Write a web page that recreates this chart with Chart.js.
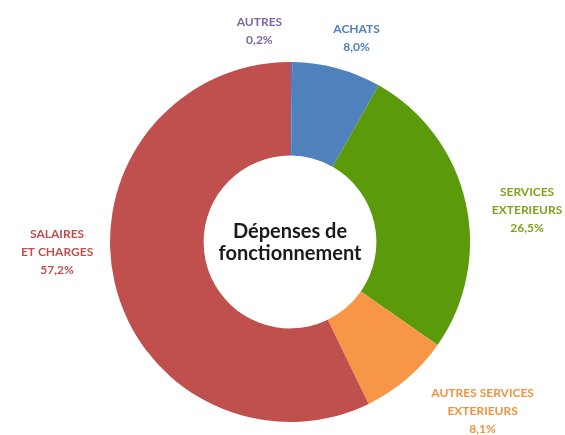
<!DOCTYPE html>
<html>
<head>
<meta charset="utf-8">
<script src="https://cdn.jsdelivr.net/npm/chart.js@4.4.0/dist/chart.umd.min.js"></script>
<style>
  html, body { margin: 0; padding: 0; background: #fff; }
  #wrap { width: 565px; height: 435px; }
</style>
</head>
<body>
<div id="wrap"><canvas id="myChart"></canvas></div>
<script>
// données
const categories = ['AUTRES', 'ACHATS', 'SERVICES EXTERIEURS', 'AUTRES SERVICES EXTERIEURS', 'SALAIRES ET CHARGES'];
const values = [0.2, 8.0, 26.5, 8.1, 57.2];
const labelLines = [
    ['AUTRES'],
    ['ACHATS'],
    ['SERVICES', 'EXTERIEURS'],
    ['AUTRES SERVICES', 'EXTERIEURS'],
    ['SALAIRES', 'ET CHARGES']
];
const centerTitle = ['Dépenses de', 'fonctionnement'];

const sliceColors = ['#8064A2', '#4F81BD', '#5B9A0B', '#F79646', '#C0504D'];
const textColors = ['#7E65A8', '#4F81BD', '#7FA21E', '#F0923E', '#C0504D'];
// position des étiquettes (milieu du bloc), relative au centre, en fraction du rayon
const labelAnchor = [[-0.17, -1.17], [0.37, -1.135], [1.317, -0.178], [1.07, 0.94], [-1.294, 0.056]];

function fmt(v) {
    return v.toFixed(1).replace('.', ',') + '%';
}

const labelsPlugin = {
    id: 'labelsPlugin',
    afterDraw(chart) {
        const ctx = chart.ctx;
        const arc = chart.getDatasetMeta(0).data[0];
        const cx = arc.x, cy = arc.y, r = arc.outerRadius;
        const lh = 18;
        ctx.save();
        ctx.textAlign = 'center';
        ctx.textBaseline = 'middle';
        ctx.font = 'bold 12px Lato';
        values.forEach(function(v, i) {
            const lines = labelLines[i].concat([fmt(v)]);
            const x = cx + labelAnchor[i][0] * r;
            let y = cy + labelAnchor[i][1] * r - (lines.length - 1) * lh / 2;
            ctx.fillStyle = textColors[i];
            lines.forEach(function(l) {
                ctx.fillText(l, x, y);
                y += lh;
            });
        });
        // titre central
        ctx.fillStyle = '#1a1a1a';
        ctx.font = 'bold 20px Lato';
        ctx.fillText(centerTitle[0], cx, cy - 10);
        ctx.fillText(centerTitle[1], cx, cy + 12);
        ctx.restore();
    }
};

const ctx = document.getElementById('myChart').getContext('2d');
const myChart = new Chart(ctx, {
    type: 'doughnut',
    data: {
        labels: categories,
        datasets: [{
            data: values,
            backgroundColor: sliceColors,
            borderWidth: 0
        }]
    },
    options: {
        responsive: true,
        maintainAspectRatio: false,
        animation: false,
        cutout: '48%',
        layout: {
            padding: { top: 62, bottom: 13, left: 110, right: 95 }
        },
        plugins: {
            legend: { display: false },
            tooltip: { enabled: false }
        }
    },
    plugins: [labelsPlugin]
});
</script>
</body>
</html>
